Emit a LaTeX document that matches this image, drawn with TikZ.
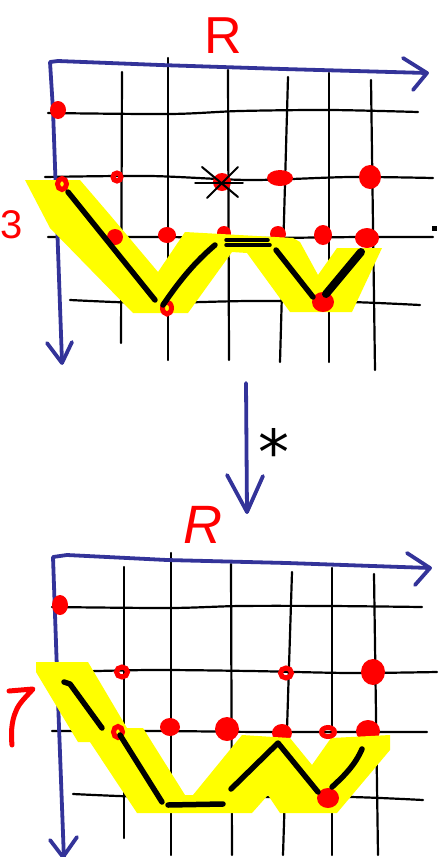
\documentclass[tikz,border=0pt]{standalone}
\usepackage{fontspec}
\setmainfont{Liberation Sans}
\newfontfamily\djv{DejaVu Sans}
\definecolor{axblue}{RGB}{51,51,153}
\definecolor{hlyellow}{RGB}{255,255,0}
\definecolor{dotred}{RGB}{255,0,0}
\begin{document}
\begin{tikzpicture}[x=1pt,y=-1pt,
  gridln/.style={black,line width=2.2pt,line cap=round},
  axis/.style={axblue,line width=3.8pt,line cap=round,line join=round},
  hl/.style={fill=hlyellow,draw=none},
  ink/.style={black,line width=5.5pt,line cap=round,line join=round},
  reddot/.style={fill=dotred},
  redring/.style={draw=dotred,line width=5pt},
  redstroke/.style={draw=dotred,line width=5pt,line cap=round,line join=round},
  lbl/.style={text=dotred,inner sep=0pt}]
\useasboundingbox (0,0) rectangle (440,857);

% ================= TOP PANEL =================
% grid
\draw[gridln] (122,72) -- (121,343);
\draw[gridln] (168,58) -- (168,360);
\draw[gridln] (228,70) -- (229,360);
\draw[gridln] (288,77) -- (280,362);
\draw[gridln] (329,73) -- (329,362);
\draw[gridln] (371,80) -- (375,370);
\draw[gridln] plot[smooth] coordinates {(48,113) (170,114) (240,111) (330,110) (418,112)};
\draw[gridln] plot[smooth] coordinates {(45,177) (150,176) (250,180) (350,177) (433,178)};
\draw[gridln] plot[smooth] coordinates {(48,237) (160,237) (260,238) (360,237) (433,237)};
\draw[gridln] plot[smooth] coordinates {(70,300) (150,303) (250,301) (350,302) (420,305)};
\fill (432,226) rectangle (437,231);
% axes
\draw[axis] (62,362) -- (53,110) -- (50,62) -- (58,61) -- (160,65) -- (283,69) -- (427,73);
\draw[axis] (403,58) -- (427,73) -- (413,90);
\draw[axis] (47,343) -- (62,363) -- (72,342);
% dots under highlight
\fill[reddot] (224,233) circle[radius=7pt];
\fill[reddot] (278,234) circle[radius=8pt];
\fill[reddot] (367,238) ellipse[x radius=12pt,y radius=10pt];
% highlight
\fill[hl] (25,180) -- (80,180) -- (110,215) -- (158,272) -- (185,232) -- (293,238)
  -- (300,242) -- (318,275) -- (337,248) -- (382,248) -- (352,312) -- (290,312)
  -- (247,253) -- (232,252) -- (188,313) -- (133,313) -- (50,228) -- cycle;
% dots
\fill[reddot] (58,110) ellipse[x radius=8pt,y radius=9pt];
\draw[redring] (62,184) ellipse[x radius=4.5pt,y radius=5.5pt];
\draw[redring] (117,177) circle[radius=4pt];
\fill[reddot] (222,182) circle[radius=9pt];
\fill[reddot] (280,178) ellipse[x radius=13pt,y radius=8pt];
\fill[reddot] (370,177) ellipse[x radius=11pt,y radius=12pt];
\fill[reddot] (115,237) circle[radius=8pt];
\fill[reddot] (167,235) ellipse[x radius=9pt,y radius=8pt];
\fill[reddot] (323,235) ellipse[x radius=9pt,y radius=10pt];
\draw[redring] (167,308) ellipse[x radius=4.5pt,y radius=6pt];
\fill[reddot] (323,302) ellipse[x radius=11pt,y radius=10pt];
% star mark
\draw[black,line width=2pt,line cap=round] (202,167) -- (238,197);
\draw[black,line width=2pt,line cap=round] (207,198) -- (238,167);
\draw[black,line width=1.5pt,line cap=round] (195,183) -- (243,183);
% ink
\draw[ink] (68,192) -- (155,300);
\draw[ink] (163,305) .. controls (180,280) and (195,262) .. (215,245);
\draw[black,line width=3.5pt,line cap=round] (226,240) -- (268,240);
\draw[black,line width=3.5pt,line cap=round] (226,245) -- (270,245);
\draw[ink] (276,250) -- (313,297);
\draw[black,line width=8pt,line cap=round] (326,294) -- (361,252);
% labels
\node[lbl,anchor=base] (Rtop) at (223,53) {\fontsize{52}{52}\selectfont R};
\node[lbl,anchor=base west] (threeL) at (0,238) {\fontsize{40}{40}\selectfont 3};

% ================= MIDDLE ARROW =================
\coordinate (mA) at (246,383);
\coordinate (mB) at (247,512);
\draw[axis] (mA) -- (mB);
\draw[axis] (227,475) -- (mB) -- (263,476);
\node[inner sep=0pt,anchor=north] (star) at (274,428) {\djv\fontsize{62}{62}\selectfont *};

% ================= BOTTOM PANEL =================
\draw[gridln] (124,567) -- (124,838);
\draw[gridln] (171,553) -- (171,855);
\draw[gridln] (231,564) -- (232,855);
\draw[gridln] (292,572) -- (283,855);
\draw[gridln] (332,568) -- (332,855);
\draw[gridln] (374,574) -- (378,855);
\draw[gridln] plot[smooth] coordinates {(52,607) (170,608) (240,606) (330,606) (422,607)};
\draw[gridln] plot[smooth] coordinates {(60,672) (150,670) (250,671) (350,673) (437,672)};
\draw[gridln] plot[smooth] coordinates {(52,731) (160,731) (260,732) (360,732) (427,732)};
\draw[gridln] plot[smooth] coordinates {(73,794) (150,797) (250,797) (350,797) (423,800)};
% axes
\draw[axis] (64,860) -- (58,700) -- (53,557) -- (67,555) -- (167,560) -- (287,563) -- (430,568);
\draw[axis] (407,553) -- (430,568) -- (415,585);
\draw[axis] (50,840) -- (63,857) -- (77,837);
% dots under highlight
\fill[reddot] (282,733) ellipse[x radius=10pt,y radius=9pt];
\fill[reddot] (368,731) ellipse[x radius=12pt,y radius=11pt];
% highlight
\fill[hl] (36,662) -- (88,662) -- (127,728) -- (143,728) -- (185,795) -- (193,795)
  -- (242,735) -- (290,738) -- (312,765) -- (331,738) -- (390,735) -- (390,750)
  -- (337,813) -- (280,813) -- (268,795) -- (252,813) -- (137,813) -- (90,742)
  -- (78,742) -- (36,672) -- cycle;
% dots
\fill[reddot] (60,605) ellipse[x radius=8pt,y radius=10pt];
\draw[redring] (122,672) ellipse[x radius=5.5pt,y radius=5pt];
\draw[redring] (286,673) ellipse[x radius=5.5pt,y radius=5pt];
\fill[reddot] (373,672) ellipse[x radius=12pt,y radius=13pt];
\draw[redring] (118,732) ellipse[x radius=4.5pt,y radius=5.5pt];
\fill[reddot] (170,727) ellipse[x radius=10pt,y radius=9pt];
\fill[reddot] (227,729) ellipse[x radius=12pt,y radius=12pt];
\draw[redring] (328,732) ellipse[x radius=6.5pt,y radius=4.5pt];
\fill[reddot] (328,798) ellipse[x radius=11pt,y radius=10pt];
% ink
\draw[ink] (64,682) -- (70,684) -- (102,728);
\draw[ink] (120,735) -- (162,802);
\draw[ink] (168,805) -- (223,804);
\draw[ink] (231,789) -- (278,743) -- (318,792);
\draw[ink] (332,787) .. controls (345,775) and (355,765) .. (362,749);
% labels
\node[lbl,anchor=base] (Rbot) at (203,543) {\fontsize{54}{54}\selectfont\itshape R};
\draw[redstroke] (9,691) -- (33,689) .. controls (26,697) and (19,703) .. (16,711)
  .. controls (11,722) and (11,735) .. (12,745);
\end{tikzpicture}
\end{document}
